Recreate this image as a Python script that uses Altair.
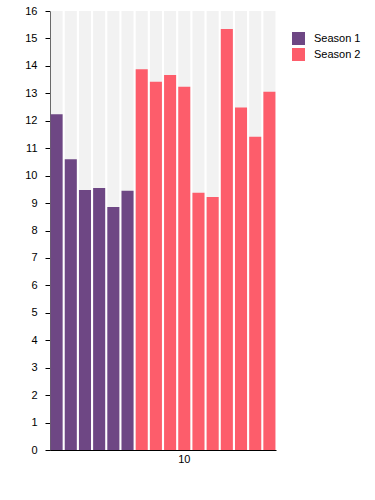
import altair as alt
import pandas as pd

episodes = list(range(1, 17))
seasons = ["Season 1"] * 6 + ["Season 2"] * 10
ratings = [12.24, 10.60, 9.48, 9.55, 8.86, 9.45,
           13.88, 13.42, 13.67, 13.24, 9.38, 9.22, 15.34, 12.48, 11.42, 13.06]
season_names = ["Season 1", "Season 2"]
season_colors = ["#6e4784", "#fd5d6b"]
y_ticks = list(range(0, 17))
y_max = 16

df = pd.DataFrame({"episode": episodes, "season": seasons, "rating": ratings})

x_enc = alt.X(
    "episode:O",
    scale=alt.Scale(paddingInner=0.15, paddingOuter=0.04),
    axis=alt.Axis(values=[10], labelAngle=0, ticks=False, title=None,
                  domainColor="black", labelColor="black", labelFontSize=11,
                  labelFont="Liberation Sans", labelPadding=3),
)

y_scale = alt.Scale(domain=[0, y_max], nice=False)
y_axis = alt.Axis(values=y_ticks, tickCount=17, grid=False, title=None,
                  domainColor="black", tickColor="black", labelColor="black",
                  labelFontSize=11, labelFont="Liberation Sans", tickSize=5,
                  labelOverlap=False, labelFlush=False, labelPadding=8)

bg = alt.Chart(df).mark_bar(color="#f2f2f2").encode(
    x=x_enc,
    y=alt.Y(datum=y_max, type="quantitative", scale=y_scale, axis=y_axis),
)

bars = alt.Chart(df).mark_bar().encode(
    x=x_enc,
    y=alt.Y("rating:Q", scale=y_scale, axis=y_axis),
    color=alt.Color(
        "season:N",
        scale=alt.Scale(domain=season_names, range=season_colors),
        legend=alt.Legend(title=None, symbolType="square", symbolSize=169,
                          labelFontSize=11, labelFont="Liberation Sans",
                          labelColor="black", rowPadding=3,
                          symbolStrokeWidth=0, labelOffset=9,
                          orient="none", legendX=242, legendY=21),
    ),
)

chart = (bg + bars).properties(
    width=226,
    height=439,
    autosize=alt.AutoSizeParams(type="none"),
    padding={"left": 50, "top": 11, "right": 99, "bottom": 50},
).configure_view(stroke=None)

chart.save("out.html", embed_options={"renderer": "svg", "actions": False})
